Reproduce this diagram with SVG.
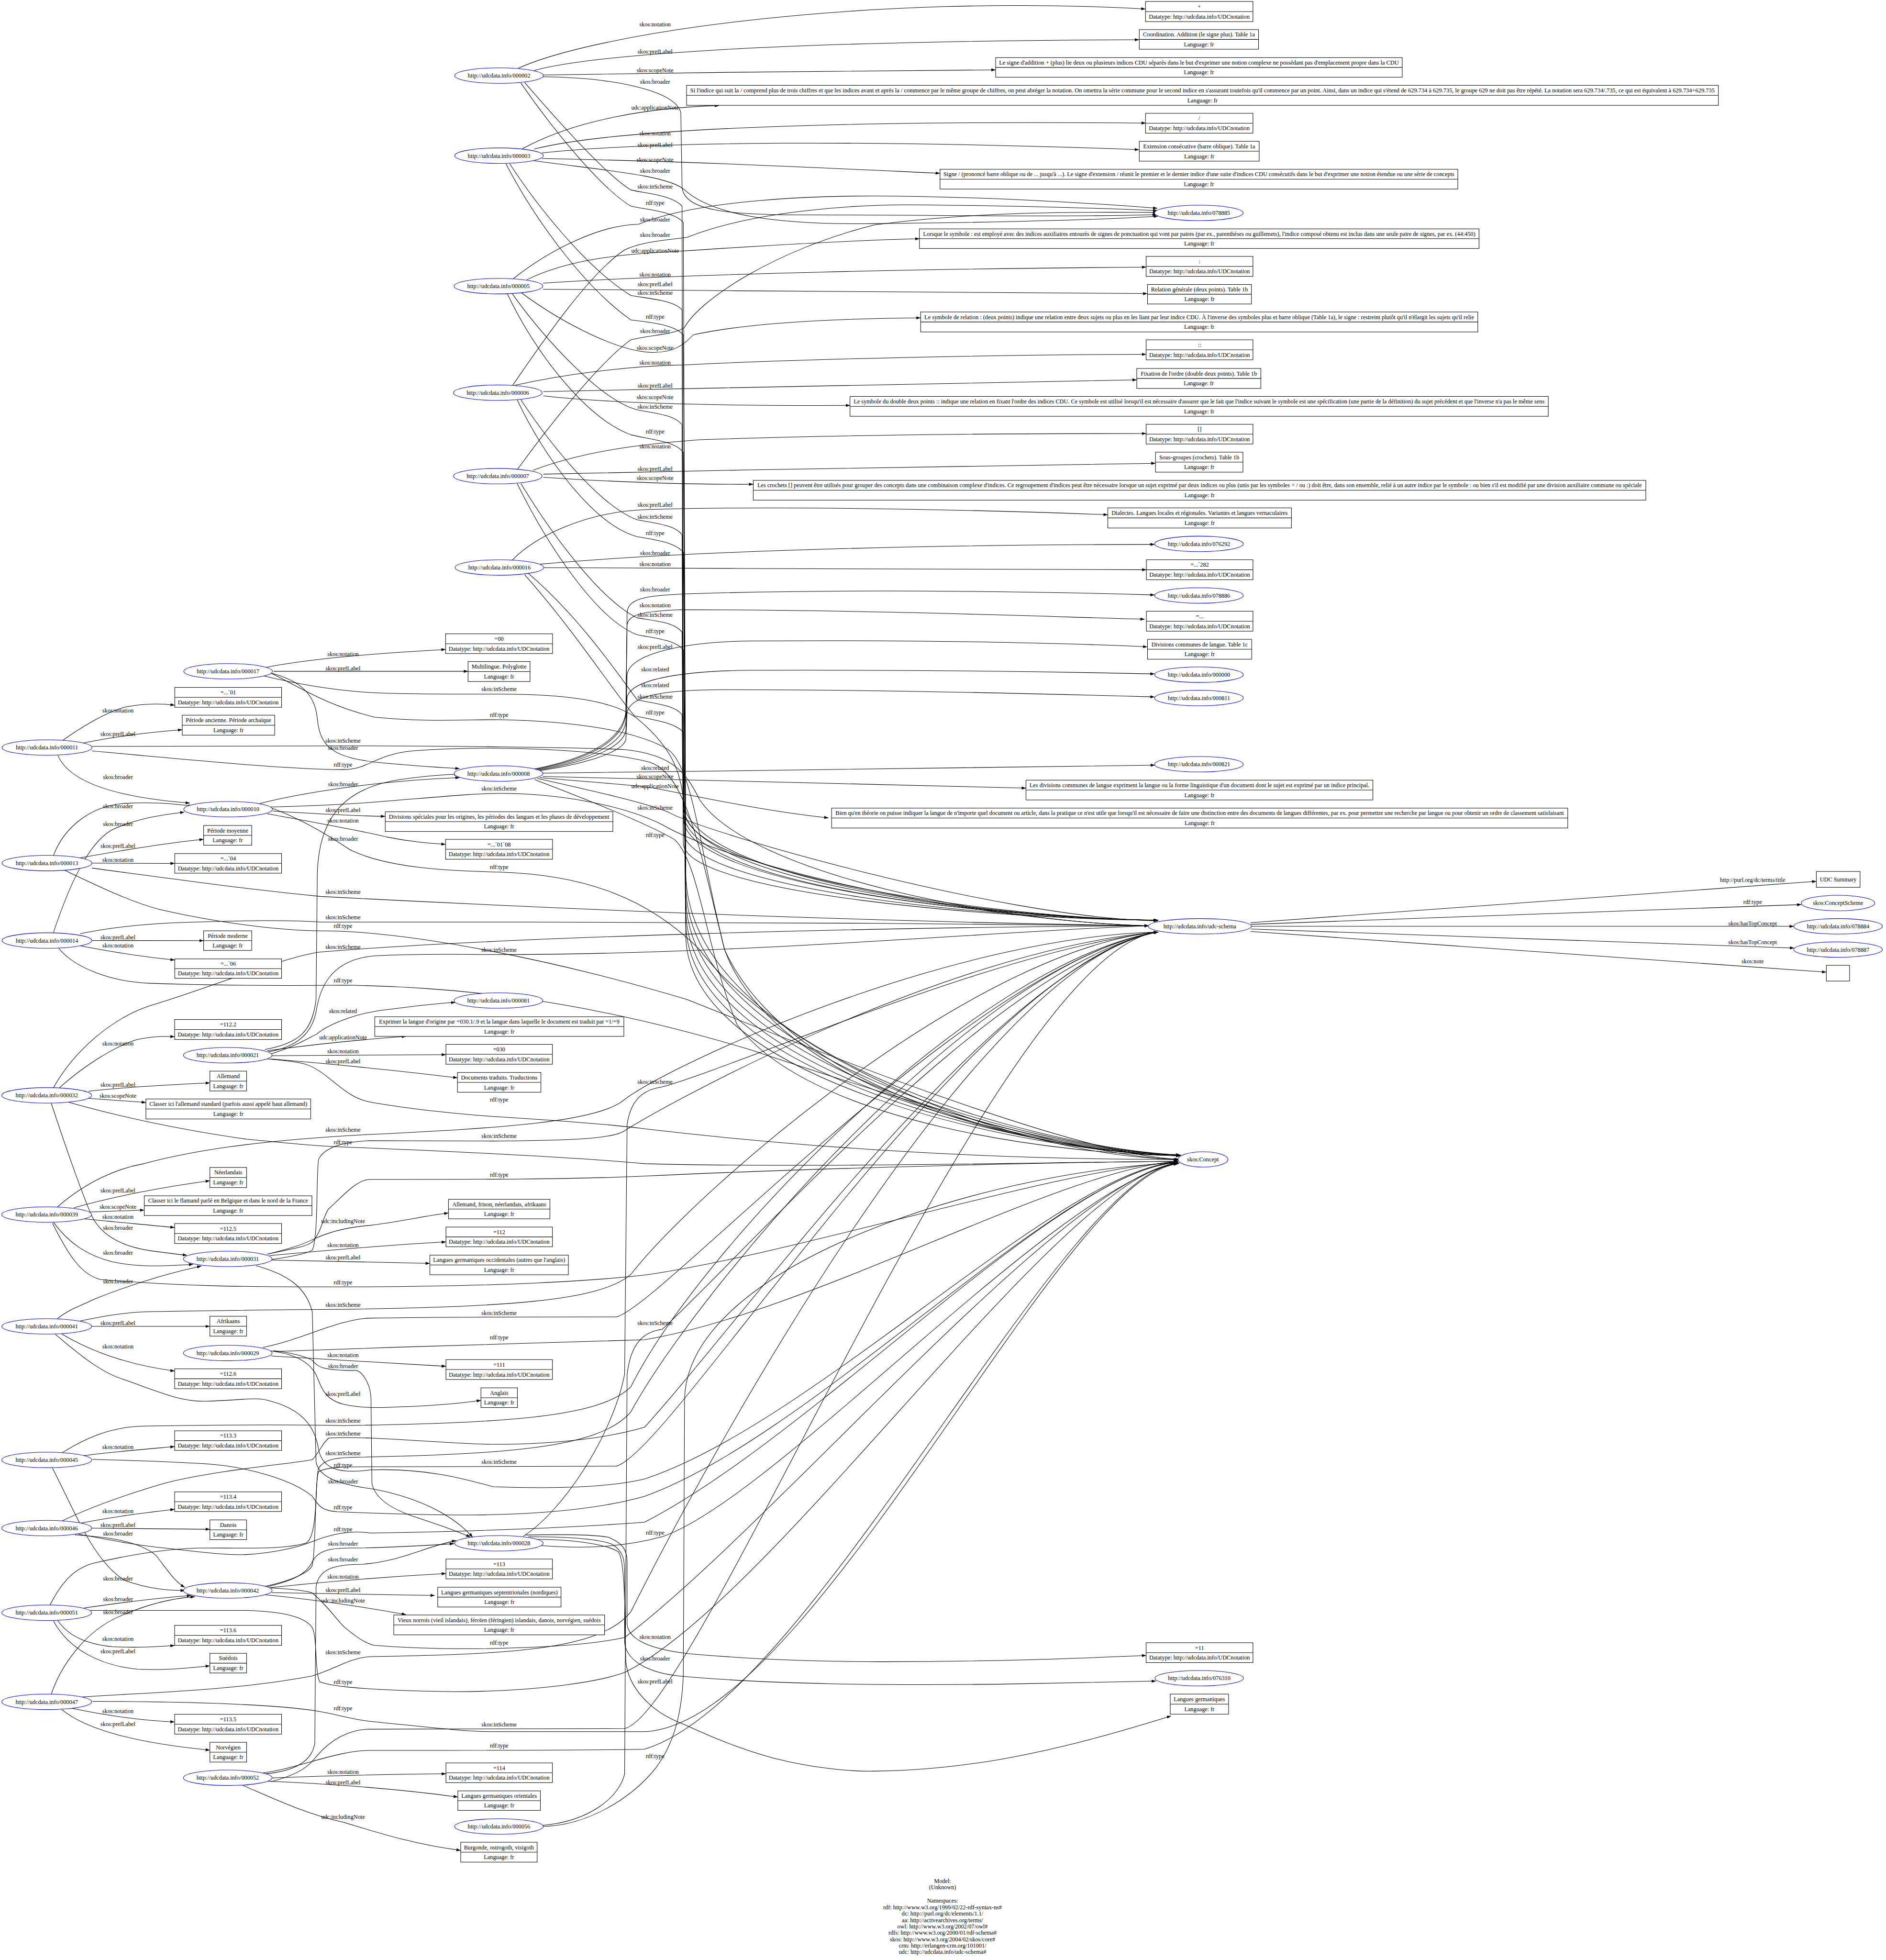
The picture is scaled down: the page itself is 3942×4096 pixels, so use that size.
<svg xmlns="http://www.w3.org/2000/svg" width="3942" height="4096" viewBox="0 0 3942 4096">
<style>
text{font-family:"Liberation Serif","Times New Roman",serif;font-size:4.7px;text-anchor:middle;fill:#000}
.e path{fill:none;stroke:#000;stroke-width:0.4;marker-end:url(#a)}
ellipse{fill:#fff;stroke:#00f;stroke-width:0.4}
.r{fill:#fff;stroke:#000;stroke-width:0.4}
.d{stroke:#000;stroke-width:0.4}
</style>
<defs>
<marker id="a" viewBox="0 0 10 7" refX="10" refY="3.5" markerWidth="3.5" markerHeight="2.4" markerUnits="userSpaceOnUse" orient="auto"><path d="M0,0L10,3.5L0,7z" fill="#000"/></marker>
</defs>
<rect x="0" y="0" width="3942" height="4096" fill="#fff"/>
<g transform="scale(2.611)">
<g id="edges" class="e">
<path d="M415,54.6 C480,25 700,-5 917,7.2"/>
<path d="M427.6,56.4 C470,45 600,33 911.8,31.8"/>
<path d="M435,60 C550,58 700,56.5 797,55.9"/>
<path d="M434,61.5 C490,62 540,72 545,90 L546,150 C548,168 580,172 640,172 C750,172 850,174 926,171.8"/>
<path d="M420,66 C445,95 485,140 505,152 C517,155 538,156 546,165 L547,640 C548,705 800,735 927,736.5"/>
<path d="M417,66.5 C440,100 480,150 505,165 C518,168 539,169 547,178 L549,700 C552,840 820,918 945,924.5"/>
<path d="M417.8,119.3 C460,96 520,86 575.5,84.5"/>
<path d="M427.6,119.3 C480,106 620,96 917.2,98.5"/>
<path d="M434,122.4 C520,113 700,112 911.8,119.8"/>
<path d="M434,126.9 C550,129 650,134 752.4,138.7"/>
<path d="M427,128.6 C480,136 535,140 548,152 C570,172 620,180 700,179 C800,178 880,176 927,173"/>
<path d="M408,131 C430,165 470,215 505,236.5 C518,239 539,240 546,248 L547,645 C548,707 800,735 927,736.5"/>
<path d="M405,131 C425,170 465,228 505,256 C518,258 539,259 547,268 L549,710 C552,845 820,919 945,924.5"/>
<path d="M411,223 C440,200 480,180 511,179.5 C560,160 650,156 720,157 C800,158 880,163 926.5,166.7"/>
<path d="M421.6,224 C460,205 510,203 545,201 C620,196 690,192 736,191.1"/>
<path d="M434.8,226.6 C550,219 750,215 917.5,213.8"/>
<path d="M434.8,231.5 C600,233 800,234 918.5,235"/>
<path d="M417,234 C445,255 490,280 520,282 C540,283 548,275 555,268 C600,258 670,255 737,254.4"/>
<path d="M410,235 C435,270 480,320 510,328 C525,331 540,332 546,340 L547,650 C548,710 800,735 927,736.5"/>
<path d="M406,235 C430,285 470,335 505,348 C522,352 540,353 547,362 L549,720 C552,850 820,920 945,924.5"/>
<path d="M410,309 C430,280 470,220 500,200 C515,193 535,192 550,190 C600,170 680,163 740,164 C830,165 890,167 926.5,168.5"/>
<path d="M412,308.4 C450,300 500,293 548,292 C650,287 800,284 917.5,283.6"/>
<path d="M435,313.4 C600,310 800,306 910,304"/>
<path d="M435,316.8 C480,322 560,325 680.5,324.5"/>
<path d="M417,320 C440,355 480,405 510,416 C525,419 540,420 546,428 L547,655 C548,709 800,735 927,736.5"/>
<path d="M414,320 C435,365 475,420 510,429.5 C525,432 540,434 547,442 L549,730 C552,855 820,921 945,924.5"/>
<path d="M414,376 C440,340 480,290 505,272 C520,268 540,268 548,262 C560,240 620,200 700,180 C790,168 880,170 926.5,170"/>
<path d="M426.8,376.4 C470,360 520,355 560,352 C700,347 850,347 917.5,347"/>
<path d="M435,379.5 C600,376 800,372 925,370.8"/>
<path d="M435,382 C480,385 540,388 603,387.6"/>
<path d="M417,387 C440,425 480,480 510,494.5 C525,497 540,498 546,506 L547,665 C548,712 800,736 927,736.5"/>
<path d="M414,387 C436,432 476,495 510,508 C525,511 540,512 547,520 L549,740 C552,860 820,921 945,925"/>
<path d="M410,448.3 C430,428 470,410 515,408 C600,405 760,407 886.8,412"/>
<path d="M432,451.6 C560,440 760,436 924.3,435.7"/>
<path d="M435.3,454.3 C600,455 800,456 917.7,456"/>
<path d="M423,459 C465,495 495,540 510,560 C522,563 540,564 546,572 L547,675 C548,715 800,736 927,736.5"/>
<path d="M420,460 C460,505 492,555 508,573 C522,576 540,578 547,586 L549,750 C552,865 820,922 945,925"/>
<path d="M427.7,615.5 C465,608 498,595 501,570 L502,490 C503,478 520,476 560,475 C700,471 850,474 924.3,476.2"/>
<path d="M427.7,616 C465,609 498,596 501,572 L502,500 C503,492 515,489 545,488 C700,488 850,494 916.3,495.6"/>
<path d="M427.7,616.5 C465,610 498,598 501,578 L502,540 C504,525 540,514 600,513 C750,512 860,515 918.5,517.7"/>
<path d="M427.7,617 C465,611 498,600 501,585 L502,558 C505,545 540,537 600,536.5 C750,536 860,538 924.3,539.4"/>
<path d="M427.7,617.5 C465,612 498,603 501,592 L502,570 C505,557 530,552 580,552 C720,552 860,556 924.3,557.8"/>
<path d="M434.5,618.8 C600,617 800,614 924.6,612.4"/>
<path d="M434.5,621.5 C550,624 700,628 821.3,630.8"/>
<path d="M432,622.4 C470,626 510,628 530,632 C580,642 620,650 663.2,654.6"/>
<path d="M430,623 C470,632 515,642 535,650 C560,665 800,735 927,737"/>
<path d="M428,624 C470,640 520,660 540,672 C560,690 565,760 590,820 C650,900 850,924 945,925"/>
<path d="M419,1229.5 C450,1210 490,1150 500,1100 L502,900 C505,880 515,872 530,870 C600,850 800,760 927,746"/>
<path d="M432,1237 C470,1240 500,1238 530,1230 C620,1200 850,945 944,931"/>
<path d="M421,1228.6 C450,1228 475,1228 487,1230.4 C498,1235 502,1240 502,1250 L502,1300 C503,1312 520,1320 550.6,1323.5 C600,1328 650,1330 706,1330 C800,1330 870,1327 917.5,1325"/>
<path d="M423,1230 C455,1230 480,1232 490,1236 C500,1242 500,1250 500,1260 L500,1315 C502,1330 520,1340 550,1342 C620,1348 700,1349 800,1348 C860,1347 900,1346 925.4,1345.5"/>
<path d="M425,1232 C460,1232 485,1236 495,1242 C501,1250 500,1300 501,1330 C503,1350 520,1370 547.2,1380 C580,1395 600,1402 619.7,1407.3 C650,1415 680,1418 699.2,1417.6 C740,1417 770,1413 792.4,1409.6 C850,1400 900,1385 937.5,1373.4"/>
<path d="M434,1461 C470,1458 495,1440 500,1420 L502,1100 C505,1075 515,1066 530,1064 C600,1000 800,770 927,746"/>
<path d="M434.5,1461.9 C470,1461 505,1440 525,1415 C540,1395 546,1370 547,1340 L548,1120 C550,1010 800,935 944,931"/>
<path d="M212.6,534.2 C250,527 300,523 356.7,519.8"/>
<path d="M219,537.3 L374.7,537.3"/>
<path d="M211,541 C240,548 270,553 300,554.5 C340,556 380,555.5 399.5,555.5 C450,555.5 490,560 510,575 C540,600 546,620 548,650 C552,700 800,735 927,736.5"/>
<path d="M216,538.3 C240,550 262,565 300,574 C340,578 370,576 399.5,576 C460,577 510,585 535,600 C555,615 560,680 580,760 C620,870 820,922 945,925"/>
<path d="M218,539 C240,545 252,555 254,575 C256,600 270,606 300,610 C330,613 350,614 367.9,615.2"/>
<path d="M50.5,592.4 C65,582 85,570 100,566 C115,563 128,563 139.9,564.4"/>
<path d="M67,594.6 C90,590 120,586 145.9,584.1"/>
<path d="M73.6,597.4 C150,597 220,597 274.6,597 C350,597 460,598 500,600 C540,604 550,620 560,640 C600,700 800,738 919.5,741"/>
<path d="M73.6,601 C150,608 230,616 274.6,616 C295,616 300,604 330,601 C400,596 480,600 520,610 C550,620 560,680 580,760 C630,870 820,922 945,925"/>
<path d="M46.3,604.6 C55,625 90,638 152,642.8"/>
<path d="M207.5,643.2 C240,635 300,625 367.9,622.4"/>
<path d="M216,645.9 C250,645 275,644 300,642 C350,638 380,635 399.5,635 C450,635 500,645 530,660 C600,700 800,738 919.5,741"/>
<path d="M218.2,649.2 C250,651 280,653 308.4,653.4"/>
<path d="M213.9,651.3 C250,658 290,665 310,670 C330,674 345,675 356.7,675.8"/>
<path d="M218,647 C240,655 262,668 280,680 C310,695 360,697 399.5,698 C470,700 520,720 560,760 C620,840 800,925 944,928"/>
<path d="M42.8,684.8 C50,665 70,645 100,643 C120,642 140,643 154,645.5"/>
<path d="M64.2,686.6 C90,682 130,675 163,671.8"/>
<path d="M73.6,690.8 L139.9,691.1"/>
<path d="M73.6,694.8 C150,705 200,712 256.6,717.5 C400,725 650,737 919.5,741"/>
<path d="M51.3,696.3 C80,710 105,722 128,728 C180,740 230,745 256.6,745 C330,745 450,770 550,800 C700,860 870,925 944,928"/>
<path d="M42.8,746.3 C55,710 70,675 90,664 C110,655 130,652 147.6,650"/>
<path d="M73.6,752.8 L163,752.9"/>
<path d="M64.2,757 C90,762 115,766 139.9,768.4"/>
<path d="M64.2,747.3 C90,742 120,739 149.7,738.2 C190,737 230,736 256.6,738 C400,738 600,738 700,739 C800,740 870,741 919.5,741"/>
<path d="M47,759 C60,775 90,786 120,787 C180,789 230,789 274.6,788.5 C400,790 500,810 600,840 C750,890 870,925 944,928.5"/>
<path d="M47.7,870.5 C65,855 90,838 110,832 C125,829 133,829.5 139.8,829.8"/>
<path d="M70.8,873.4 C100,870 140,868 168,866.7"/>
<path d="M70.8,879.1 L116.8,882.4"/>
<path d="M42.8,870.5 C60,840 90,815 120,805 C170,790 230,765 256.6,762 C400,750 700,742 919.5,741"/>
<path d="M54.3,882 C100,895 150,905 197.4,911.8 C230,915 250,917 274.6,918 C400,923 480,928 516,931.4 C650,935 850,930 943,929.5"/>
<path d="M41,883 C50,910 60,940 72,970 C80,990 100,998 120,1001 C135,1003 143,1004 149.7,1004.7"/>
<path d="M59.2,966.7 C90,958 130,950 168,945"/>
<path d="M72.4,970 L115.5,968.5"/>
<path d="M67.4,975.5 C90,978 115,980 139.8,982.5"/>
<path d="M42.8,978.3 C55,995 70,1005 90,1010 C115,1015 135,1013 154.6,1012"/>
<path d="M46,966 C70,945 95,935 115,931.4 C150,922 200,913 296,908 C400,903 480,898 500,880 C540,850 760,750 927,746"/>
<path d="M42,979 C55,1005 65,1020 80,1024 C150,1030 200,1030 274.7,1030 C400,1030 480,1025 520,1020 C650,1000 850,935 943,930"/>
<path d="M73,1061.6 L168,1061.6"/>
<path d="M49.3,1067.6 C70,1080 100,1092 139.8,1097.4"/>
<path d="M46,1055.4 C55,1048 65,1045 75,1040 C100,1030 130,1020 161.2,1013.3"/>
<path d="M64.2,1057.3 C90,1052 105,1050 121.7,1049.8 C180,1049 230,1048 274.7,1048 C400,1046 480,1042 505,1020 C560,950 780,760 927,746"/>
<path d="M44.4,1068 C70,1090 85,1100 98.7,1104 C130,1115 145,1122 164.5,1121.5 C190,1121 205,1118 213.9,1120.7 C240,1127 252,1140 255,1160 C258,1175 270,1180 296,1176.5 C340,1175 370,1183 394.8,1190 C450,1192 490,1190 516,1183.7 C650,1140 850,935 943,930"/>
<path d="M67.4,1165 C90,1162 115,1160 139.8,1157.8"/>
<path d="M49.4,1163 C70,1150 90,1142 115,1141.4 C170,1140.5 220,1140 274.7,1141 C400,1139 480,1135 505,1110 C560,1000 780,770 927,746"/>
<path d="M74,1168 C110,1169 140,1170 164.5,1171.6 C200,1174 235,1185 250,1197.6 C255,1205 257,1209 270,1210 C320,1212 370,1213 394.8,1212.3 C450,1211 490,1205 516,1197.6 C650,1150 850,935 943,930.5"/>
<path d="M42,1175 C60,1210 75,1250 100,1265 C120,1272 135,1273 148,1273"/>
<path d="M64.2,1219.2 C90,1214 115,1211 139.8,1208"/>
<path d="M73,1223.1 L168,1224"/>
<path d="M60,1228.5 C80,1230 110,1232 125,1245 C135,1258 140,1266 148,1270.5"/>
<path d="M49.3,1217.5 C75,1205 105,1195 131.6,1187.2 C170,1177 230,1172 250,1168.3 C256,1162 258,1155 263.2,1151 C300,1149 360,1156 394.8,1156 C450,1156 490,1150 516,1142.3 C600,1050 800,770 927,746"/>
<path d="M62.5,1227.8 C90,1233 110,1237 131.6,1239 C160,1242 180,1245 197.4,1244.2 C220,1243 240,1238 250,1233.8 C265,1228 280,1224.5 296,1227 C380,1226 470,1222 516,1218.3 C650,1150 850,935 943,930.5"/>
<path d="M67.4,1287 C95,1283 125,1279 153,1277"/>
<path d="M46,1296.7 C55,1310 70,1316 90,1318 C110,1319 125,1318 139.8,1317"/>
<path d="M42.8,1297.4 C55,1320 80,1333 110,1336 C135,1337 150,1335 168,1333.3"/>
<path d="M39.5,1285.5 C50,1265 60,1255 75.6,1251 C110,1243 140,1239 164.5,1239 C200,1239 230,1240 245,1235 C255,1230 252,1185 255,1175 C260,1168 268,1167 280,1166.5 C400,1164 480,1160 505,1130 C560,1030 780,770 927,746"/>
<path d="M72.4,1289 C120,1289 170,1289 197.4,1289 C230,1290 245,1295 250,1302.8 C254,1310 252,1340 256,1346 C265,1350 300,1353 361.9,1354 C430,1354 480,1346 500,1338.6 C620,1280 850,940 943,931"/>
<path d="M41,1356 C50,1330 70,1305 95,1294 C120,1283 140,1279 156,1278"/>
<path d="M57.6,1367.3 C80,1372 110,1377 139.8,1378.2"/>
<path d="M49.4,1368.3 C70,1385 110,1395 168,1400.8"/>
<path d="M65.8,1358.2 C100,1356 125,1355 148,1353.3 C200,1350 230,1345 250,1341.4 C270,1335 280,1327 296,1326 C400,1324 480,1322 505,1290 C560,1180 780,770 927,746"/>
<path d="M74,1361.7 C150,1362 220,1364 253,1369.4 C270,1372 280,1376 296,1377.7 C340,1382 370,1386 394.8,1386 C450,1386 490,1386 516,1386 C650,1380 850,940 943,931.5"/>
<path d="M217,843.5 C235,838 245,832 253.3,827.8 C265,818 290,810 310,808 C335,805 350,803 364.5,802.3"/>
<path d="M213.9,841 C250,836 290,832 325,829.5"/>
<path d="M217.3,845 C280,845 320,844.5 357,844.1"/>
<path d="M217,847.6 C270,852 320,857 366.2,862.7"/>
<path d="M212,840 C240,835 250,825 253,800 L254,700 C255,650 280,630 320,624 C340,621 355,620 367,619.5"/>
<path d="M214,842 C240,838 250,825 253,810 C256,790 265,768 300,765 C340,763 370,764 399.5,764 C600,764 800,745 919.5,741"/>
<path d="M213.9,847.6 C230,849 240,850 246.7,852.5 C265,860 275,878 296,882 C330,888 370,892 394.8,893.6 C450,897 490,900 516,903.5 C700,925 850,928 943,928"/>
<path d="M213.9,1003.8 C230,1000 240,997 250,992.3 C265,985 280,982 296,980.8 C320,978 340,973 359,970.9"/>
<path d="M215.5,1005 C270,1000 320,996 357,994"/>
<path d="M217.5,1008.5 L344.1,1011.2"/>
<path d="M205,1013 C230,1020 245,1030 250,1050 L253,1170 C255,1182 270,1188 300,1192 C340,1200 365,1215 378.4,1230.4"/>
<path d="M213.9,1008.8 C230,1006 245,1004 250,1000.5 C255,990 253,940 255,928 C260,918 275,914 296,913 C340,913 370,913.3 394.8,913.3 C450,913 490,912 500,905 C540,880 760,760 927,746"/>
<path d="M213.9,1003.8 C232,1000 245,998 250,994 C258,985 258,975 263,967.6 C272,960 285,944 296,944 C380,944 460,944 516,941.3 C650,935 850,930 943,929.5"/>
<path d="M217.2,1085.3 C270,1088 320,1091 357,1093.6"/>
<path d="M213.9,1081 C235,1083 248,1090 253.3,1100.9 C258,1112 260,1120 275,1124 C290,1127 300,1127 320,1126 C350,1125 370,1123 385,1120.8"/>
<path d="M210.5,1078.4 C240,1073 270,1056 296,1055 C370,1054 450,1054 493.5,1054 C530,1045 780,770 927,746"/>
<path d="M218.8,1081.8 C320,1078 450,1074 516,1072.3 C650,1050 850,935 943,929.5"/>
<path d="M218.8,1081 C235,1083 245,1086 250,1088.7 C255,1095 260,1097 286,1097 C292,1100 297,1110 297,1120 L297.7,1187 C300,1200 315,1208 329,1213 C350,1220 365,1225 376.6,1230.3"/>
<path d="M213.9,1271 C260,1266 310,1262 357,1259.4"/>
<path d="M217.5,1274.7 L348,1277"/>
<path d="M210.6,1276.2 C250,1280 290,1286 325,1292.3"/>
<path d="M213.9,1270 C235,1265 245,1260 250,1250 C254,1242 262,1239 280,1239 C310,1239 340,1237 363.5,1235.5"/>
<path d="M210.5,1270 C235,1265 248,1258 250,1252.8 C253,1240 252,1185 255,1178 C262,1174 275,1174 296,1174 C380,1174 450,1173.5 493.5,1173.5 C540,1160 780,770 927,746"/>
<path d="M217,1271 C235,1272 245,1273 250,1275 C262,1285 270,1297 276,1302.6 C285,1310 292,1315 299.4,1316.9 C340,1320 380,1320 408,1319 C450,1318 480,1315 500,1310.6 C620,1220 850,945 943,930.5"/>
<path d="M217.3,1423 C270,1421 320,1420 357,1419.7"/>
<path d="M213.9,1425.6 C270,1428 320,1432 366.5,1438.3"/>
<path d="M194,1428.8 C220,1440 245,1452 275,1458.5 C300,1466 330,1476 368.8,1481"/>
<path d="M210,1420 C235,1418 250,1410 252,1395 L253,1270 C255,1257 265,1252 290,1252 C320,1250 340,1238 365.2,1233"/>
<path d="M217,1426 C240,1420 248,1413 253.3,1405.8 C265,1392 280,1384 296,1384 C380,1384 460,1384 500,1383.5 C560,1370 800,760 927,746"/>
<path d="M210.5,1419 C240,1415 270,1401 296,1401 C380,1401 470,1401 516,1400 C650,1360 850,940 943,931"/>
<path d="M1001,738.5 L1454,705.4"/>
<path d="M1001.5,739.8 L1442,724"/>
<path d="M1001.8,741.4 L1436,741.4"/>
<path d="M1001.5,743.6 L1436.3,758.8"/>
<path d="M1001,745.5 L1462,778.1"/>
</g>
<g id="edge-labels">
<text x="524.4" y="21">skos:notation</text>
<text x="524.4" y="42.9">skos:prefLabel</text>
<text x="524.4" y="58">skos:scopeNote</text>
<text x="524.4" y="66.9">skos:broader</text>
<text x="524.4" y="87.8">udc:applicationNote</text>
<text x="524.4" y="108.2">skos:notation</text>
<text x="524.4" y="117.6">skos:prefLabel</text>
<text x="524.4" y="129.3">skos:scopeNote</text>
<text x="524.4" y="138.3">skos:broader</text>
<text x="524.4" y="151">skos:inScheme</text>
<text x="524.4" y="164.1">rdf:type</text>
<text x="524.4" y="177.3">skos:broader</text>
<text x="524.4" y="189.7">skos:broader</text>
<text x="524.4" y="202.2">udc:applicationNote</text>
<text x="524.4" y="221.4">skos:notation</text>
<text x="524.4" y="229.1">skos:prefLabel</text>
<text x="524.4" y="235.9">skos:inScheme</text>
<text x="524.4" y="255.2">rdf:type</text>
<text x="524.4" y="266.7">skos:broader</text>
<text x="524.4" y="280">skos:scopeNote</text>
<text x="524.4" y="291.8">skos:notation</text>
<text x="524.4" y="310.2">skos:prefLabel</text>
<text x="524.4" y="319.6">skos:scopeNote</text>
<text x="524.4" y="327.2">skos:inScheme</text>
<text x="524.4" y="347">rdf:type</text>
<text x="524.4" y="359">skos:notation</text>
<text x="524.4" y="377">skos:prefLabel</text>
<text x="524.4" y="384.1">skos:scopeNote</text>
<text x="524.4" y="405.7">skos:prefLabel</text>
<text x="524.4" y="415.2">skos:inScheme</text>
<text x="524.4" y="428.1">rdf:type</text>
<text x="524.4" y="444.4">skos:broader</text>
<text x="524.4" y="453.2">skos:notation</text>
<text x="524.4" y="473.3">skos:broader</text>
<text x="524.4" y="486">skos:notation</text>
<text x="524.4" y="493.6">skos:inScheme</text>
<text x="524.4" y="506.7">rdf:type</text>
<text x="524.4" y="519.3">skos:prefLabel</text>
<text x="524.4" y="537.2">skos:related</text>
<text x="524.4" y="549.9">skos:related</text>
<text x="524.4" y="559">skos:inScheme</text>
<text x="524.4" y="572">rdf:type</text>
<text x="524.4" y="616.2">skos:related</text>
<text x="524.4" y="623.1">skos:scopeNote</text>
<text x="524.4" y="630.7">udc:applicationNote</text>
<text x="524.4" y="647.9">skos:inScheme</text>
<text x="524.4" y="669.8">rdf:type</text>
<text x="524.4" y="867.6">skos:inScheme</text>
<text x="524.4" y="1060.6">skos:inScheme</text>
<text x="524.4" y="1228.2">rdf:type</text>
<text x="524.4" y="1311.6">skos:notation</text>
<text x="524.4" y="1329.1">skos:broader</text>
<text x="524.4" y="1347.5">skos:prefLabel</text>
<text x="524.4" y="1407.1">rdf:type</text>
<text x="399.5" y="553.1">skos:inScheme</text>
<text x="399.5" y="573.7">rdf:type</text>
<text x="399.5" y="632.7">skos:inScheme</text>
<text x="399.5" y="695.5">rdf:type</text>
<text x="399.5" y="761.6">skos:inScheme</text>
<text x="399.5" y="881.7">rdf:type</text>
<text x="399.5" y="910.7">skos:inScheme</text>
<text x="399.5" y="941.6">rdf:type</text>
<text x="399.5" y="1052.3">skos:inScheme</text>
<text x="399.5" y="1072">rdf:type</text>
<text x="399.5" y="1171.5">skos:inScheme</text>
<text x="399.5" y="1316.3">rdf:type</text>
<text x="399.5" y="1381.7">skos:inScheme</text>
<text x="399.5" y="1398.8">rdf:type</text>
<text x="274.6" y="525">skos:notation</text>
<text x="274.6" y="536.4">skos:prefLabel</text>
<text x="274.6" y="594.5">skos:inScheme</text>
<text x="274.6" y="600.1">skos:broader</text>
<text x="274.6" y="613.7">rdf:type</text>
<text x="274.6" y="629.4">skos:broader</text>
<text x="274.6" y="649.9">skos:prefLabel</text>
<text x="274.6" y="658.4">skos:notation</text>
<text x="274.6" y="673">skos:broader</text>
<text x="274.6" y="715.3">skos:inScheme</text>
<text x="274.6" y="735.6">skos:inScheme</text>
<text x="274.6" y="742.7">rdf:type</text>
<text x="274.6" y="759.5">skos:inScheme</text>
<text x="274.6" y="786.1">rdf:type</text>
<text x="274.6" y="810.8">skos:related</text>
<text x="274.6" y="831.9">udc:applicationNote</text>
<text x="274.6" y="843.1">skos:notation</text>
<text x="274.6" y="851.1">skos:prefLabel</text>
<text x="274.6" y="905.8">skos:inScheme</text>
<text x="274.6" y="915.9">rdf:type</text>
<text x="274.6" y="979.1">udc:includingNote</text>
<text x="274.6" y="998">skos:notation</text>
<text x="274.6" y="1008.2">skos:prefLabel</text>
<text x="274.6" y="1027.9">rdf:type</text>
<text x="274.6" y="1046">skos:inScheme</text>
<text x="274.6" y="1086.3">skos:notation</text>
<text x="274.6" y="1094.8">skos:broader</text>
<text x="274.6" y="1117.3">skos:prefLabel</text>
<text x="274.6" y="1138.8">skos:inScheme</text>
<text x="274.6" y="1149">skos:inScheme</text>
<text x="274.6" y="1164.6">skos:inScheme</text>
<text x="274.6" y="1174.3">rdf:type</text>
<text x="274.6" y="1187.4">skos:broader</text>
<text x="274.6" y="1208.1">rdf:type</text>
<text x="274.6" y="1225.4">rdf:type</text>
<text x="274.6" y="1237">skos:broader</text>
<text x="274.6" y="1249.6">skos:broader</text>
<text x="274.6" y="1263.6">skos:notation</text>
<text x="274.6" y="1274.3">skos:prefLabel</text>
<text x="274.6" y="1282.6">udc:includingNote</text>
<text x="274.6" y="1323.9">skos:inScheme</text>
<text x="274.6" y="1347.8">rdf:type</text>
<text x="274.6" y="1368.9">rdf:type</text>
<text x="274.6" y="1419.9">skos:notation</text>
<text x="274.6" y="1428.1">skos:prefLabel</text>
<text x="274.6" y="1455.9">udc:includingNote</text>
<text x="94.4" y="570.2">skos:notation</text>
<text x="94.4" y="588.9">skos:prefLabel</text>
<text x="94.4" y="623.4">skos:broader</text>
<text x="94.4" y="646.9">skos:broader</text>
<text x="94.4" y="660.9">skos:broader</text>
<text x="94.4" y="678.8">skos:prefLabel</text>
<text x="94.4" y="689.9">skos:notation</text>
<text x="94.4" y="751.7">skos:prefLabel</text>
<text x="94.4" y="758.2">skos:notation</text>
<text x="94.4" y="836.8">skos:notation</text>
<text x="94.4" y="869.6">skos:prefLabel</text>
<text x="94.4" y="878.6">skos:scopeNote</text>
<text x="94.4" y="954.3">skos:prefLabel</text>
<text x="94.4" y="967.6">skos:scopeNote</text>
<text x="94.4" y="975.6">skos:notation</text>
<text x="94.4" y="984.4">skos:broader</text>
<text x="94.4" y="1004.4">skos:broader</text>
<text x="94.4" y="1027.3">skos:broader</text>
<text x="94.4" y="1060.4">skos:prefLabel</text>
<text x="94.4" y="1079.1">skos:notation</text>
<text x="94.4" y="1159.9">skos:notation</text>
<text x="94.4" y="1211.2">skos:notation</text>
<text x="94.4" y="1222.1">skos:prefLabel</text>
<text x="94.4" y="1229">skos:broader</text>
<text x="94.4" y="1265.1">skos:broader</text>
<text x="94.4" y="1281.4">skos:broader</text>
<text x="94.4" y="1291.9">skos:broader</text>
<text x="94.4" y="1313.2">skos:notation</text>
<text x="94.4" y="1323.4">skos:prefLabel</text>
<text x="94.4" y="1371.3">skos:notation</text>
<text x="94.4" y="1381.3">skos:prefLabel</text>
<text x="1403" y="706">http://purl.org/dc/terms/title</text>
<text x="1403" y="723.4">rdf:type</text>
<text x="1403" y="740.8">skos:hasTopConcept</text>
<text x="1403" y="755.6">skos:hasTopConcept</text>
<text x="1403" y="771.1">skos:note</text>
</g>
<g id="n000002"><ellipse cx="399.5" cy="60.5" rx="35.5" ry="6.2"/><text x="399.5" y="62.1">http://udcdata.info/000002</text></g>
<g id="n000003"><ellipse cx="399.5" cy="124.6" rx="35.5" ry="6.2"/><text x="399.5" y="126.2">http://udcdata.info/000003</text></g>
<g id="n000005"><ellipse cx="399" cy="229" rx="35.5" ry="6.2"/><text x="399" y="230.6">http://udcdata.info/000005</text></g>
<g id="n000006"><ellipse cx="398.5" cy="314.3" rx="35.5" ry="6.2"/><text x="398.5" y="315.9">http://udcdata.info/000006</text></g>
<g id="n000007"><ellipse cx="398.5" cy="381.1" rx="35.5" ry="6.2"/><text x="398.5" y="382.7">http://udcdata.info/000007</text></g>
<g id="n000016"><ellipse cx="399.8" cy="454.2" rx="35.5" ry="6.2"/><text x="399.8" y="455.8">http://udcdata.info/000016</text></g>
<g id="n000008"><ellipse cx="399.1" cy="619.1" rx="35.5" ry="6.2"/><text x="399.1" y="620.7">http://udcdata.info/000008</text></g>
<g id="n000081"><ellipse cx="399" cy="800.8" rx="35.5" ry="6.2"/><text x="399" y="802.4">http://udcdata.info/000081</text></g>
<g id="n000028"><ellipse cx="399.4" cy="1235.2" rx="35.5" ry="6.2"/><text x="399.4" y="1236.8">http://udcdata.info/000028</text></g>
<g id="n000056"><ellipse cx="399.4" cy="1461.9" rx="35.5" ry="6.2"/><text x="399.4" y="1463.5">http://udcdata.info/000056</text></g>
<g id="n000017"><ellipse cx="182.6" cy="537.3" rx="35.5" ry="6.2"/><text x="182.6" y="538.9">http://udcdata.info/000017</text></g>
<g id="n000010"><ellipse cx="182.6" cy="647.7" rx="35.5" ry="6.2"/><text x="182.6" y="649.3">http://udcdata.info/000010</text></g>
<g id="n000021"><ellipse cx="182.3" cy="844.6" rx="35.5" ry="6.2"/><text x="182.3" y="846.2">http://udcdata.info/000021</text></g>
<g id="n000031"><ellipse cx="182.3" cy="1007.6" rx="35.5" ry="6.2"/><text x="182.3" y="1009.2">http://udcdata.info/000031</text></g>
<g id="n000029"><ellipse cx="182.3" cy="1082.9" rx="35.5" ry="6.2"/><text x="182.3" y="1084.5">http://udcdata.info/000029</text></g>
<g id="n000042"><ellipse cx="182.3" cy="1273" rx="35.5" ry="6.2"/><text x="182.3" y="1274.6">http://udcdata.info/000042</text></g>
<g id="n000052"><ellipse cx="182.3" cy="1422.9" rx="35.5" ry="6.2"/><text x="182.3" y="1424.5">http://udcdata.info/000052</text></g>
<g id="n000011"><ellipse cx="37.6" cy="598.3" rx="36" ry="6.2"/><text x="37.6" y="599.9">http://udcdata.info/000011</text></g>
<g id="n000013"><ellipse cx="37.6" cy="690.8" rx="36" ry="6.2"/><text x="37.6" y="692.4">http://udcdata.info/000013</text></g>
<g id="n000014"><ellipse cx="37.6" cy="752.8" rx="36" ry="6.2"/><text x="37.6" y="754.4">http://udcdata.info/000014</text></g>
<g id="n000032"><ellipse cx="37.4" cy="876.7" rx="36" ry="6.2"/><text x="37.4" y="878.3">http://udcdata.info/000032</text></g>
<g id="n000039"><ellipse cx="37.4" cy="972.1" rx="36" ry="6.2"/><text x="37.4" y="973.7">http://udcdata.info/000039</text></g>
<g id="n000041"><ellipse cx="37.4" cy="1061.6" rx="36" ry="6.2"/><text x="37.4" y="1063.2">http://udcdata.info/000041</text></g>
<g id="n000045"><ellipse cx="37.4" cy="1168.5" rx="36" ry="6.2"/><text x="37.4" y="1170.1">http://udcdata.info/000045</text></g>
<g id="n000046"><ellipse cx="37.4" cy="1223.1" rx="36" ry="6.2"/><text x="37.4" y="1224.7">http://udcdata.info/000046</text></g>
<g id="n000051"><ellipse cx="37.4" cy="1290.8" rx="36" ry="6.2"/><text x="37.4" y="1292.4">http://udcdata.info/000051</text></g>
<g id="n000047"><ellipse cx="37.4" cy="1362.1" rx="36" ry="6.2"/><text x="37.4" y="1363.7">http://udcdata.info/000047</text></g>
<g id="n078885"><ellipse cx="959.7" cy="170.4" rx="35.5" ry="6.2"/><text x="959.7" y="172">http://udcdata.info/078885</text></g>
<g id="n076292"><ellipse cx="959.8" cy="435.3" rx="35.5" ry="6.2"/><text x="959.8" y="436.9">http://udcdata.info/076292</text></g>
<g id="n078886"><ellipse cx="959.8" cy="476.6" rx="35.5" ry="6.2"/><text x="959.8" y="478.2">http://udcdata.info/078886</text></g>
<g id="n000000"><ellipse cx="959.8" cy="540" rx="35.5" ry="6.2"/><text x="959.8" y="541.6">http://udcdata.info/000000</text></g>
<g id="n000811"><ellipse cx="959.8" cy="558.7" rx="35.5" ry="6.2"/><text x="959.8" y="560.3">http://udcdata.info/000811</text></g>
<g id="n000821"><ellipse cx="959.8" cy="611.7" rx="35.5" ry="6.2"/><text x="959.8" y="613.3">http://udcdata.info/000821</text></g>
<g id="n076310"><ellipse cx="960" cy="1343.2" rx="35.5" ry="6.2"/><text x="960" y="1344.8">http://udcdata.info/076310</text></g>
<g id="udc-schema"><ellipse cx="960.5" cy="741.4" rx="41.3" ry="6.2"/><text x="960.5" y="743">http://udcdata.info/udc-schema</text></g>
<g id="skos-Concept"><ellipse cx="963" cy="928" rx="20" ry="6.1"/><text x="963" y="929.6">skos:Concept</text></g>
<g id="skos-ConceptScheme"><ellipse cx="1471.4" cy="722.8" rx="29.4" ry="6.2"/><text x="1471.4" y="724.4">skos:ConceptScheme</text></g>
<g id="n078884"><ellipse cx="1471.4" cy="741.4" rx="35.5" ry="6.2"/><text x="1471.4" y="743">http://udcdata.info/078884</text></g>
<g id="n078887"><ellipse cx="1471.4" cy="760" rx="35.5" ry="6.2"/><text x="1471.4" y="761.6">http://udcdata.info/078887</text></g>
<g id="b01"><rect class="r" x="917" y="1.2" width="86" height="16.1"/><line class="d" x1="917" y1="9.25" x2="1003" y2="9.25"/><text x="960" y="6.8">+</text><text x="960" y="14.9">Datatype: http://udcdata.info/UDCnotation</text></g>
<g id="b02"><rect class="r" x="912" y="23.7" width="95.5" height="15.7"/><line class="d" x1="912" y1="31.55" x2="1007.5" y2="31.55"/><text x="959.75" y="29.2">Coordination. Addition (le signe plus). Table 1a</text><text x="959.75" y="37.1">Language: fr</text></g>
<g id="b03"><rect class="r" x="797" y="46.1" width="325.5" height="15.7"/><line class="d" x1="797" y1="53.95" x2="1122.5" y2="53.95"/><text x="959.75" y="51.6" textLength="320" lengthAdjust="spacingAndGlyphs">Le signe d'addition + (plus) lie deux ou plusieurs indices CDU séparés dans le but d'exprimer une notion complexe ne possédant pas d'emplacement propre dans la CDU</text><text x="959.75" y="59.5">Language: fr</text></g>
<g id="b04"><rect class="r" x="549.6" y="68.3" width="826" height="16"/><line class="d" x1="549.6" y1="76.3" x2="1375.6" y2="76.3"/><text x="962.6" y="73.9" textLength="820" lengthAdjust="spacingAndGlyphs">Si l'indice qui suit la / comprend plus de trois chiffres et que les indices avant et après la / commence par le même groupe de chiffres, on peut abréger la notation. On omettra la série commune pour le second indice en s'assurant toutefois qu'il commence par un point. Ainsi, dans un indice qui s'étend de 629.734 à 629.735, le groupe 629 ne doit pas être répété. La notation sera 629.734/.735, ce qui est équivalent à 629.734+629.735</text><text x="962.6" y="81.9">Language: fr</text></g>
<g id="b05"><rect class="r" x="917" y="90.7" width="86" height="15.9"/><line class="d" x1="917" y1="98.65" x2="1003" y2="98.65"/><text x="960" y="96.3">/</text><text x="960" y="104.2">Datatype: http://udcdata.info/UDCnotation</text></g>
<g id="b06"><rect class="r" x="912" y="113.1" width="96" height="15.9"/><line class="d" x1="912" y1="121.05" x2="1008" y2="121.05"/><text x="960" y="118.7">Extension consécutive (barre oblique). Table 1a</text><text x="960" y="126.6">Language: fr</text></g>
<g id="b07"><rect class="r" x="752.5" y="135.5" width="414.5" height="15.8"/><line class="d" x1="752.5" y1="143.4" x2="1167" y2="143.4"/><text x="959.75" y="141.1" textLength="409" lengthAdjust="spacingAndGlyphs">Signe / (prononcé barre oblique ou de ... jusqu'à ...). Le signe d'extension / réunit le premier et le dernier indice d'une suite d'indices CDU consécutifs dans le but d'exprimer une notion étendue ou une série de concepts</text><text x="959.75" y="149">Language: fr</text></g>
<g id="b08"><rect class="r" x="736" y="183.2" width="448" height="15.7"/><line class="d" x1="736" y1="191.05" x2="1184" y2="191.05"/><text x="960" y="188.7" textLength="442" lengthAdjust="spacingAndGlyphs">Lorsque le symbole : est employé avec des indices auxiliaires entourés de signes de ponctuation qui vont par paires (par ex., parenthèses ou guillemets), l'indice composé obtenu est inclus dans une seule paire de signes, par ex. (44:450)</text><text x="960" y="196.6">Language: fr</text></g>
<g id="b09"><rect class="r" x="917.5" y="205.2" width="85.5" height="16"/><line class="d" x1="917.5" y1="213.2" x2="1003" y2="213.2"/><text x="960.25" y="210.8">:</text><text x="960.25" y="218.8">Datatype: http://udcdata.info/UDCnotation</text></g>
<g id="b10"><rect class="r" x="918.6" y="227.7" width="83.2" height="15.6"/><line class="d" x1="918.6" y1="235.5" x2="1001.8" y2="235.5"/><text x="960.2" y="233.2">Relation générale (deux points). Table 1b</text><text x="960.2" y="241">Language: fr</text></g>
<g id="b11"><rect class="r" x="737" y="249.7" width="446" height="16"/><line class="d" x1="737" y1="257.7" x2="1183" y2="257.7"/><text x="960" y="255.3" textLength="440" lengthAdjust="spacingAndGlyphs">Le symbole de relation : (deux points) indique une relation entre deux sujets ou plus en les liant par leur indice CDU. À l'inverse des symboles plus et barre oblique (Table 1a), le signe : restreint plutôt qu'il n'élargit les sujets qu'il relie</text><text x="960" y="263.3">Language: fr</text></g>
<g id="b12"><rect class="r" x="917.5" y="272" width="85.5" height="16"/><line class="d" x1="917.5" y1="280" x2="1003" y2="280"/><text x="960.25" y="277.6">::</text><text x="960.25" y="285.6">Datatype: http://udcdata.info/UDCnotation</text></g>
<g id="b13"><rect class="r" x="910" y="294.9" width="99.3" height="16"/><line class="d" x1="910" y1="302.9" x2="1009.3" y2="302.9"/><text x="959.65" y="300.5">Fixation de l'ordre (double deux points). Table 1b</text><text x="959.65" y="308.5">Language: fr</text></g>
<g id="b14"><rect class="r" x="680.4" y="317.3" width="559" height="15.9"/><line class="d" x1="680.4" y1="325.25" x2="1239.4" y2="325.25"/><text x="959.9" y="322.9" textLength="553" lengthAdjust="spacingAndGlyphs">Le symbole du double deux points :: indique une relation en fixant l'ordre des indices CDU. Ce symbole est utilisé lorsqu'il est nécessaire d'assurer que le fait que l'indice suivant le symbole est une spécification (une partie de la définition) du sujet précédent et que l'inverse n'a pas le même sens</text><text x="959.9" y="330.8">Language: fr</text></g>
<g id="b15"><rect class="r" x="917.5" y="339.6" width="85.5" height="15.8"/><line class="d" x1="917.5" y1="347.5" x2="1003" y2="347.5"/><text x="960.25" y="345.1">[]</text><text x="960.25" y="353">Datatype: http://udcdata.info/UDCnotation</text></g>
<g id="b16"><rect class="r" x="925" y="361.9" width="70" height="16"/><line class="d" x1="925" y1="369.9" x2="995" y2="369.9"/><text x="960" y="367.5">Sous-groupes (crochets). Table 1b</text><text x="960" y="375.5">Language: fr</text></g>
<g id="b17"><rect class="r" x="603" y="384.5" width="714.5" height="15.8"/><line class="d" x1="603" y1="392.4" x2="1317.5" y2="392.4"/><text x="960.25" y="390.05" textLength="708" lengthAdjust="spacingAndGlyphs">Les crochets [] peuvent être utilisés pour grouper des concepts dans une combinaison complexe d'indices. Ce regroupement d'indices peut être nécessaire lorsque un sujet exprimé par deux indices ou plus (unis par les symboles + / ou :) doit être, dans son ensemble, relié à un autre indice par le symbole : ou bien s'il est modifié par une division auxiliaire commune ou spéciale</text><text x="960.25" y="397.95">Language: fr</text></g>
<g id="b18"><rect class="r" x="886.8" y="406.5" width="147" height="16.1"/><line class="d" x1="886.8" y1="414.55" x2="1033.8" y2="414.55"/><text x="960.3" y="412.1">Dialectes. Langues locales et régionales. Variantes et langues vernaculaires</text><text x="960.3" y="420.2">Language: fr</text></g>
<g id="b19"><rect class="r" x="917.7" y="448" width="85.3" height="16"/><line class="d" x1="917.7" y1="456" x2="1003" y2="456"/><text x="960.35" y="453.6">=...`282</text><text x="960.35" y="461.6">Datatype: http://udcdata.info/UDCnotation</text></g>
<g id="b20"><rect class="r" x="917.7" y="489.2" width="85.3" height="16"/><line class="d" x1="917.7" y1="497.2" x2="1003" y2="497.2"/><text x="960.35" y="494.8">=...</text><text x="960.35" y="502.8">Datatype: http://udcdata.info/UDCnotation</text></g>
<g id="b21"><rect class="r" x="918.6" y="511.7" width="83.4" height="15.9"/><line class="d" x1="918.6" y1="519.65" x2="1002" y2="519.65"/><text x="960.3" y="517.3">Divisions communes de langue. Table 1c</text><text x="960.3" y="525.2">Language: fr</text></g>
<g id="b22"><rect class="r" x="821.3" y="624.4" width="277.7" height="15.9"/><line class="d" x1="821.3" y1="632.35" x2="1099" y2="632.35"/><text x="960.15" y="630" textLength="272" lengthAdjust="spacingAndGlyphs">Les divisions communes de langue expriment la langue ou la forme linguistique d'un document dont le sujet est exprimé par un indice principal.</text><text x="960.15" y="637.9">Language: fr</text></g>
<g id="b23"><rect class="r" x="665.7" y="646.8" width="589.3" height="15.9"/><line class="d" x1="665.7" y1="654.75" x2="1255" y2="654.75"/><text x="960.35" y="652.4" textLength="583" lengthAdjust="spacingAndGlyphs">Bien qu'en théorie on puisse indiquer la langue de n'importe quel document ou article, dans la pratique ce n'est utile que lorsqu'il est nécessaire de faire une distinction entre des documents de langues différentes, par ex. pour permettre une recherche par langue ou pour obtenir un ordre de classement satisfaisant</text><text x="960.35" y="660.3">Language: fr</text></g>
<g id="b24"><rect class="r" x="356.7" y="507.3" width="85.6" height="15.8"/><line class="d" x1="356.7" y1="515.2" x2="442.3" y2="515.2"/><text x="399.5" y="512.85">=00</text><text x="399.5" y="520.75">Datatype: http://udcdata.info/UDCnotation</text></g>
<g id="b25"><rect class="r" x="374.7" y="529.5" width="49.6" height="16"/><line class="d" x1="374.7" y1="537.5" x2="424.3" y2="537.5"/><text x="399.5" y="535.1">Multilingue. Polyglotte</text><text x="399.5" y="543.1">Language: fr</text></g>
<g id="b26"><rect class="r" x="139.9" y="550.2" width="85.5" height="15.9"/><line class="d" x1="139.9" y1="558.15" x2="225.4" y2="558.15"/><text x="182.65" y="555.8">=...`01</text><text x="182.65" y="563.7">Datatype: http://udcdata.info/UDCnotation</text></g>
<g id="b27"><rect class="r" x="145.9" y="572.4" width="74" height="16"/><line class="d" x1="145.9" y1="580.4" x2="219.9" y2="580.4"/><text x="182.9" y="578">Période ancienne. Période archaïque</text><text x="182.9" y="586">Language: fr</text></g>
<g id="b28"><rect class="r" x="308.4" y="649.7" width="182.2" height="15.8"/><line class="d" x1="308.4" y1="657.6" x2="490.6" y2="657.6"/><text x="399.5" y="655.25">Divisions spéciales pour les origines, les périodes des langues et les phases de développement</text><text x="399.5" y="663.15">Language: fr</text></g>
<g id="b29"><rect class="r" x="163" y="660.7" width="38.5" height="15.8"/><line class="d" x1="163" y1="668.6" x2="201.5" y2="668.6"/><text x="182.25" y="666.25">Période moyenne</text><text x="182.25" y="674.15">Language: fr</text></g>
<g id="b30"><rect class="r" x="356.7" y="671.8" width="85.6" height="15.9"/><line class="d" x1="356.7" y1="679.75" x2="442.3" y2="679.75"/><text x="399.5" y="677.4">=...`01`08</text><text x="399.5" y="685.3">Datatype: http://udcdata.info/UDCnotation</text></g>
<g id="b31"><rect class="r" x="139.9" y="683.2" width="85.5" height="15.7"/><line class="d" x1="139.9" y1="691.05" x2="225.4" y2="691.05"/><text x="182.65" y="688.7">=...`04</text><text x="182.65" y="696.6">Datatype: http://udcdata.info/UDCnotation</text></g>
<g id="b32"><rect class="r" x="163" y="745" width="38.5" height="15.7"/><line class="d" x1="163" y1="752.85" x2="201.5" y2="752.85"/><text x="182.25" y="750.5">Période moderne</text><text x="182.25" y="758.4">Language: fr</text></g>
<g id="b33"><rect class="r" x="139.9" y="767.5" width="85.5" height="15.5"/><line class="d" x1="139.9" y1="775.25" x2="225.4" y2="775.25"/><text x="182.65" y="773">=...`06</text><text x="182.65" y="780.7">Datatype: http://udcdata.info/UDCnotation</text></g>
<g id="b34"><rect class="r" x="300" y="813.8" width="199.4" height="15.7"/><line class="d" x1="300" y1="821.65" x2="499.4" y2="821.65"/><text x="399.7" y="819.3">Exprimer la langue d'origine par =030.1/.9 et la langue dans laquelle le document est traduit par =1/=9</text><text x="399.7" y="827.2">Language: fr</text></g>
<g id="b35"><rect class="r" x="357" y="835.9" width="85.2" height="15.9"/><line class="d" x1="357" y1="843.85" x2="442.2" y2="843.85"/><text x="399.6" y="841.5">=030</text><text x="399.6" y="849.4">Datatype: http://udcdata.info/UDCnotation</text></g>
<g id="b36"><rect class="r" x="366.2" y="858.4" width="66.8" height="15.8"/><line class="d" x1="366.2" y1="866.3" x2="433" y2="866.3"/><text x="399.6" y="864">Documents traduits. Traductions</text><text x="399.6" y="871.9">Language: fr</text></g>
<g id="b37"><rect class="r" x="139.8" y="816" width="85.6" height="16"/><line class="d" x1="139.8" y1="824" x2="225.4" y2="824"/><text x="182.6" y="821.6">=112.2</text><text x="182.6" y="829.6">Datatype: http://udcdata.info/UDCnotation</text></g>
<g id="b38"><rect class="r" x="168" y="857.3" width="29.4" height="15.9"/><line class="d" x1="168" y1="865.25" x2="197.4" y2="865.25"/><text x="182.7" y="862.9">Allemand</text><text x="182.7" y="870.8">Language: fr</text></g>
<g id="b39"><rect class="r" x="116.8" y="879.6" width="131.9" height="16"/><line class="d" x1="116.8" y1="887.6" x2="248.7" y2="887.6"/><text x="182.75" y="885.2">Classer ici l'allemand standard (parfois aussi appelé haut allemand)</text><text x="182.75" y="893.2">Language: fr</text></g>
<g id="b40"><rect class="r" x="168" y="934.4" width="29.4" height="16.1"/><line class="d" x1="168" y1="942.45" x2="197.4" y2="942.45"/><text x="182.7" y="940">Néerlandais</text><text x="182.7" y="948.1">Language: fr</text></g>
<g id="b41"><rect class="r" x="115.5" y="957.1" width="134.2" height="15.8"/><line class="d" x1="115.5" y1="965" x2="249.7" y2="965"/><text x="182.6" y="962.65">Classer ici le flamand parlé en Belgique et dans le nord de la France</text><text x="182.6" y="970.55">Language: fr</text></g>
<g id="b42"><rect class="r" x="139.8" y="979.3" width="85.6" height="16"/><line class="d" x1="139.8" y1="987.3" x2="225.4" y2="987.3"/><text x="182.6" y="984.9">=112.5</text><text x="182.6" y="992.9">Datatype: http://udcdata.info/UDCnotation</text></g>
<g id="b43"><rect class="r" x="359" y="959.9" width="81.2" height="15.6"/><line class="d" x1="359" y1="967.7" x2="440.2" y2="967.7"/><text x="399.6" y="965.4">Allemand, frison, néerlandais, afrikaans</text><text x="399.6" y="973.2">Language: fr</text></g>
<g id="b44"><rect class="r" x="357" y="982.1" width="85.2" height="15.8"/><line class="d" x1="357" y1="990" x2="442.2" y2="990"/><text x="399.6" y="987.65">=112</text><text x="399.6" y="995.55">Datatype: http://udcdata.info/UDCnotation</text></g>
<g id="b45"><rect class="r" x="344.1" y="1004.6" width="110.9" height="15.7"/><line class="d" x1="344.1" y1="1012.45" x2="455" y2="1012.45"/><text x="399.55" y="1010.1">Langues germaniques occidentales (autres que l'anglais)</text><text x="399.55" y="1018">Language: fr</text></g>
<g id="b46"><rect class="r" x="168" y="1053.5" width="29.4" height="15.9"/><line class="d" x1="168" y1="1061.45" x2="197.4" y2="1061.45"/><text x="182.7" y="1059.1">Afrikaans</text><text x="182.7" y="1067">Language: fr</text></g>
<g id="b47"><rect class="r" x="139.8" y="1095.6" width="85.6" height="15.9"/><line class="d" x1="139.8" y1="1103.55" x2="225.4" y2="1103.55"/><text x="182.6" y="1101.2">=112.6</text><text x="182.6" y="1109.1">Datatype: http://udcdata.info/UDCnotation</text></g>
<g id="b48"><rect class="r" x="357" y="1088.2" width="85.2" height="15.9"/><line class="d" x1="357" y1="1096.15" x2="442.2" y2="1096.15"/><text x="399.6" y="1093.8">=111</text><text x="399.6" y="1101.7">Datatype: http://udcdata.info/UDCnotation</text></g>
<g id="b49"><rect class="r" x="385" y="1110.8" width="29.2" height="15.8"/><line class="d" x1="385" y1="1118.7" x2="414.2" y2="1118.7"/><text x="399.6" y="1116.35">Anglais</text><text x="399.6" y="1124.25">Language: fr</text></g>
<g id="b50"><rect class="r" x="139.8" y="1145.2" width="85.6" height="15.7"/><line class="d" x1="139.8" y1="1153.05" x2="225.4" y2="1153.05"/><text x="182.6" y="1150.7">=113.3</text><text x="182.6" y="1158.6">Datatype: http://udcdata.info/UDCnotation</text></g>
<g id="b51"><rect class="r" x="139.8" y="1194.1" width="85.6" height="15.7"/><line class="d" x1="139.8" y1="1201.95" x2="225.4" y2="1201.95"/><text x="182.6" y="1199.6">=113.4</text><text x="182.6" y="1207.5">Datatype: http://udcdata.info/UDCnotation</text></g>
<g id="b52"><rect class="r" x="168" y="1216.5" width="29.4" height="15.8"/><line class="d" x1="168" y1="1224.4" x2="197.4" y2="1224.4"/><text x="182.7" y="1222.05">Danois</text><text x="182.7" y="1229.95">Language: fr</text></g>
<g id="b53"><rect class="r" x="357" y="1247.8" width="85.2" height="15.9"/><line class="d" x1="357" y1="1255.75" x2="442.2" y2="1255.75"/><text x="399.6" y="1253.4">=113</text><text x="399.6" y="1261.3">Datatype: http://udcdata.info/UDCnotation</text></g>
<g id="b54"><rect class="r" x="350.4" y="1270.4" width="98.7" height="15.8"/><line class="d" x1="350.4" y1="1278.3" x2="449.1" y2="1278.3"/><text x="399.75" y="1275.95">Langues germaniques septentrionales (nordiques)</text><text x="399.75" y="1283.85">Language: fr</text></g>
<g id="b55"><rect class="r" x="315.2" y="1292.6" width="168.8" height="15.9"/><line class="d" x1="315.2" y1="1300.55" x2="484" y2="1300.55"/><text x="399.6" y="1298.2">Vieux norrois (vieil islandais), féroïen (féringien) islandais, danois, norvégien, suédois</text><text x="399.6" y="1306.1">Language: fr</text></g>
<g id="b56"><rect class="r" x="139.8" y="1300.9" width="85.6" height="16"/><line class="d" x1="139.8" y1="1308.9" x2="225.4" y2="1308.9"/><text x="182.6" y="1306.5">=113.6</text><text x="182.6" y="1314.5">Datatype: http://udcdata.info/UDCnotation</text></g>
<g id="b57"><rect class="r" x="168" y="1323.3" width="29.4" height="15.7"/><line class="d" x1="168" y1="1331.15" x2="197.4" y2="1331.15"/><text x="182.7" y="1328.8">Suédois</text><text x="182.7" y="1336.7">Language: fr</text></g>
<g id="b58"><rect class="r" x="139.8" y="1372.1" width="85.6" height="15.9"/><line class="d" x1="139.8" y1="1380.05" x2="225.4" y2="1380.05"/><text x="182.6" y="1377.7">=113.5</text><text x="182.6" y="1385.6">Datatype: http://udcdata.info/UDCnotation</text></g>
<g id="b59"><rect class="r" x="168" y="1394.5" width="29.4" height="15.8"/><line class="d" x1="168" y1="1402.4" x2="197.4" y2="1402.4"/><text x="182.7" y="1400.05">Norvégien</text><text x="182.7" y="1407.95">Language: fr</text></g>
<g id="b60"><rect class="r" x="357" y="1411" width="85.2" height="15.8"/><line class="d" x1="357" y1="1418.9" x2="442.2" y2="1418.9"/><text x="399.6" y="1416.55">=114</text><text x="399.6" y="1424.45">Datatype: http://udcdata.info/UDCnotation</text></g>
<g id="b61"><rect class="r" x="366.5" y="1433.4" width="66.1" height="15.6"/><line class="d" x1="366.5" y1="1441.2" x2="432.6" y2="1441.2"/><text x="399.55" y="1438.9">Langues germaniques orientales</text><text x="399.55" y="1446.7">Language: fr</text></g>
<g id="b62"><rect class="r" x="368.8" y="1474.5" width="61.2" height="15.9"/><line class="d" x1="368.8" y1="1482.45" x2="430" y2="1482.45"/><text x="399.4" y="1480.1">Burgonde, ostrogoth, visigoth</text><text x="399.4" y="1488">Language: fr</text></g>
<g id="b63"><rect class="r" x="917.5" y="1314.8" width="85.5" height="15.9"/><line class="d" x1="917.5" y1="1322.75" x2="1003" y2="1322.75"/><text x="960.25" y="1320.4">=11</text><text x="960.25" y="1328.3">Datatype: http://udcdata.info/UDCnotation</text></g>
<g id="b64"><rect class="r" x="936.8" y="1355.9" width="46.7" height="16.1"/><line class="d" x1="936.8" y1="1363.95" x2="983.5" y2="1363.95"/><text x="960.15" y="1361.5">Langues germaniques</text><text x="960.15" y="1369.6">Language: fr</text></g>
<g id="b65"><rect class="r" x="1454" y="697.5" width="35" height="12.7"/><text x="1471.5" y="705.45">UDC Summary</text></g>
<g id="b66"><rect class="r" x="1462" y="772.6" width="18.6" height="12.6"/></g>
<g id="legend">
<text x="754.5" y="1507">Model:</text>
<text x="754.5" y="1512.2">(Unknown)</text>
<text x="754.5" y="1522.8">Namespaces:</text>
<text x="754.5" y="1528.1">rdf: http://www.w3.org/1999/02/22-rdf-syntax-ns#</text>
<text x="754.5" y="1533.1">dc: http://purl.org/dc/elements/1.1/</text>
<text x="754.5" y="1538.3">aa: http://activearchives.org/terms/</text>
<text x="754.5" y="1543.3">owl: http://www.w3.org/2002/07/owl#</text>
<text x="754.5" y="1548.5">rdfs: http://www.w3.org/2000/01/rdf-schema#</text>
<text x="754.5" y="1553.7">skos: http://www.w3.org/2004/02/skos/core#</text>
<text x="754.5" y="1558.9">crm: http://erlangen-crm.org/101001/</text>
<text x="754.5" y="1563.9">udc: http://udcdata.info/udc-schema#</text>
</g>
</g>
</svg>
